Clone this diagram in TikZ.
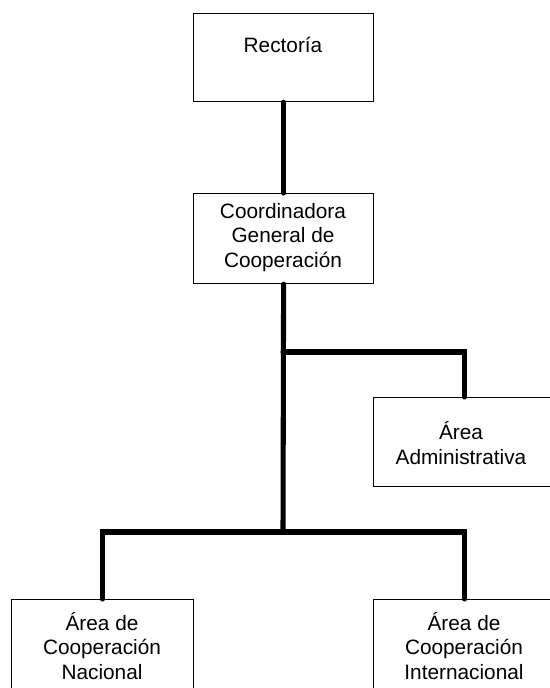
\documentclass[tikz,border=0pt]{standalone}
\usepackage{fontspec}
\setmainfont{Liberation Sans}
\begin{document}
\begin{tikzpicture}[x=0.75pt,y=-0.75pt,
  box/.style={draw,line width=0.9pt,minimum width=182*0.75pt,minimum height=89*0.75pt,inner sep=0pt,anchor=north west},
  lbl/.style={align=center,font=\fontsize{15.6}{18.6}\selectfont,inner sep=0pt},
  conn/.style={line width=3.8pt,line join=miter,line cap=round}]
\useasboundingbox (0,0) rectangle (549,688);
\node[box,minimum width=180*0.75pt,minimum height=88*0.75pt] (rect) at (193,13) {};
\node[lbl] (rectL) at (283,45) {Rectoría};
\node[box,minimum width=180*0.75pt,minimum height=90*0.75pt] (coord) at (193,193) {};
\node[lbl] (coordL) at (283,237.5) {Coordinadora\\General de\\Cooperación};
\node[box] (admin) at (373,397) {};
\node[lbl] (adminL) at (461,443) {Área\\Administrativa};
\node[box,minimum height=120*0.75pt] (nac) at (11,599) {};
\node[lbl] (nacL) at (102,646) {Área de\\Cooperación\\Nacional};
\node[box,minimum height=120*0.75pt] (int) at (373,599) {};
\node[lbl] (intL) at (464,646) {Área de\\Cooperación\\Internacional};
\coordinate (j1) at (283,352);
\coordinate (j2) at (283,532);
\draw[conn] (rect.south) -- (coord.north);
\draw[conn] (coord.south) -- (j2);
\draw[conn] (j1) -| (admin.north);
\draw[conn] (nac.north) |- (j2) -| (int.north);
\end{tikzpicture}
\end{document}
